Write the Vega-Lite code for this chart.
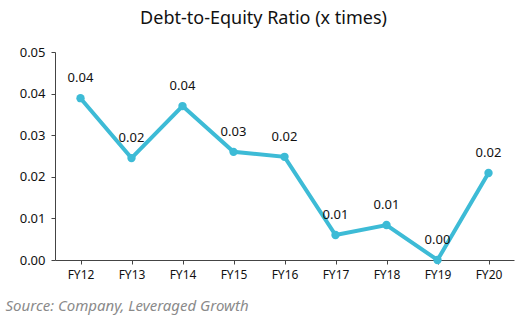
{
  "$schema": "https://vega.github.io/schema/vega-lite/v6.json",
  "width": 459,
  "height": 208,
  "autosize": "none",
  "padding": {"left": 55, "top": 52, "right": 12, "bottom": 61},
  "background": "white",
  "title": {
    "text": "Debt-to-Equity Ratio (x times)",
    "font": "Noto Sans",
    "fontSize": 18,
    "fontWeight": "normal",
    "color": "#111111",
    "anchor": "middle",
    "dx": -21,
    "offset": 18
  },
  "config": {"view": {"stroke": null}},
  "data": {
    "values": [
      {"year": "FY12", "value": 0.0389},
      {"year": "FY13", "value": 0.0245},
      {"year": "FY14", "value": 0.0370},
      {"year": "FY15", "value": 0.0260},
      {"year": "FY16", "value": 0.0248},
      {"year": "FY17", "value": 0.0060},
      {"year": "FY18", "value": 0.0084},
      {"year": "FY19", "value": 0.0000},
      {"year": "FY20", "value": 0.0209}
    ]
  },
  "encoding": {
    "x": {
      "field": "year",
      "type": "ordinal",
      "scale": {"paddingInner": 0, "paddingOuter": 0},
      "axis": {
        "bandPosition": 0,
        "labelAngle": 0,
        "labelFont": "Noto Sans",
        "labelFontSize": 12,
        "labelColor": "#111111",
        "labelPadding": 5,
        "tickColor": "#444444",
        "domainColor": "#444444",
        "tickSize": 4,
        "title": "Source: Company, Leveraged Growth",
        "titleFont": "Noto Sans",
        "titleFontSize": 15,
        "titleFontStyle": "italic",
        "titleFontWeight": "normal",
        "titleColor": "#8a8a8a",
        "titleAnchor": "start",
        "titleAlign": "left",
        "titleX": -50,
        "titleY": 38
      }
    },
    "y": {
      "field": "value",
      "type": "quantitative",
      "scale": {"domain": [0, 0.05]},
      "axis": {
        "values": [0, 0.01, 0.02, 0.03, 0.04, 0.05],
        "format": ".2f",
        "grid": false,
        "title": null,
        "labelFont": "Noto Sans",
        "labelFontSize": 13,
        "labelColor": "#111111",
        "tickColor": "#444444",
        "domainColor": "#444444",
        "tickSize": 4,
        "labelPadding": 6
      }
    }
  },
  "layer": [
    {
      "mark": {"type": "line", "color": "#3DBBD6", "strokeWidth": 4, "point": {"filled": true, "size": 70, "color": "#3DBBD6"}}
    },
    {
      "mark": {"type": "text", "dy": -20, "font": "Noto Sans", "fontSize": 13, "color": "#111111"},
      "encoding": {"text": {"field": "value", "type": "quantitative", "format": ".2f"}}
    }
  ]
}
